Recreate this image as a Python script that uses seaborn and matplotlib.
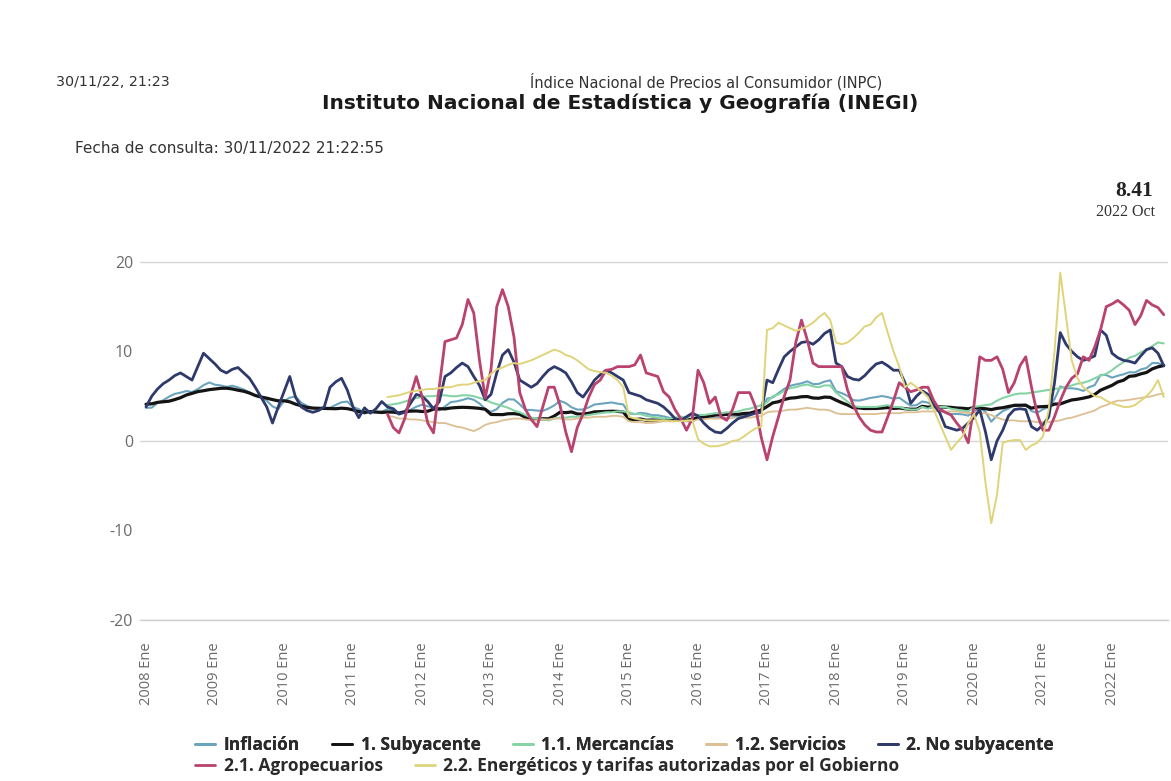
import numpy as np
import pandas as pd
import matplotlib
matplotlib.use("Agg")
import matplotlib.pyplot as plt
import seaborn as sns
from matplotlib.lines import Line2D

# ---------------- data (annual % change, monthly) ----------------
start_full = "2008-01-01"
start_parts = "2011-07-01"

inflacion = [
    3.70, 3.72, 4.25, 4.55, 4.95, 5.26, 5.39, 5.57, 5.47, 5.78, 6.23, 6.53,
    6.28, 6.20, 6.04, 6.17, 5.98, 5.74, 5.44, 5.08, 4.89, 4.50, 3.86, 3.57,
    4.46, 4.83, 4.97, 4.27, 3.92, 3.69, 3.64, 3.68, 3.70, 4.02, 4.32, 4.40,
    3.78, 3.57, 3.04, 3.36, 3.25, 3.28, 3.55, 3.42, 3.14, 3.20, 3.48, 3.82,
    4.05, 3.87, 3.73, 3.41, 3.85, 4.34, 4.42, 4.57, 4.77, 4.60, 4.18, 3.57,
    3.25, 3.55, 4.25, 4.65, 4.63, 4.09, 3.47, 3.46, 3.39, 3.36, 3.62, 3.97,
    4.48, 4.23, 3.76, 3.50, 3.51, 3.75, 4.07, 4.15, 4.22, 4.30, 4.17, 4.08,
    3.07, 3.00, 3.14, 3.06, 2.88, 2.87, 2.74, 2.59, 2.52, 2.48, 2.21, 2.13,
    2.61, 2.87, 2.60, 2.54, 2.60, 2.54, 2.65, 2.73, 2.97, 3.06, 3.31, 3.36,
    4.72, 4.86, 5.35, 5.82, 6.16, 6.31, 6.44, 6.66, 6.35, 6.37, 6.63, 6.77,
    5.55, 5.34, 5.04, 4.55, 4.51, 4.65, 4.81, 4.90, 5.02, 4.90, 4.72, 4.83,
    4.37, 3.94, 4.00, 4.41, 4.28, 3.95, 3.78, 3.16, 3.00, 3.02, 2.97, 2.83,
    3.24, 3.70, 3.25, 2.15, 2.84, 3.33, 3.62, 4.05, 4.01, 4.09, 3.33, 3.15,
    3.54, 3.76, 4.67, 6.08, 5.89, 5.88, 5.81, 5.59, 6.00, 6.24, 7.37, 7.36,
    7.07, 7.28, 7.45, 7.68, 7.65, 7.99, 8.15, 8.70, 8.70, 8.41,
]

subyacente = [
    4.10, 4.15, 4.31, 4.37, 4.44, 4.62, 4.83, 5.13, 5.31, 5.51, 5.61, 5.73,
    5.81, 5.88, 5.89, 5.81, 5.67, 5.55, 5.35, 5.08, 4.91, 4.78, 4.62, 4.48,
    4.49, 4.37, 4.11, 3.92, 3.74, 3.67, 3.65, 3.63, 3.62, 3.60, 3.66, 3.61,
    3.47, 3.27, 3.20, 3.27, 3.23, 3.18, 3.23, 3.22, 3.12, 3.27, 3.33, 3.35,
    3.29, 3.32, 3.55, 3.60, 3.58, 3.68, 3.73, 3.76, 3.74, 3.70, 3.64, 3.54,
    2.96, 2.95, 2.94, 3.04, 3.05, 2.97, 2.63, 2.43, 2.44, 2.48, 2.47, 2.78,
    3.21, 3.16, 3.24, 3.02, 3.00, 3.09, 3.25, 3.27, 3.29, 3.32, 3.30, 3.24,
    2.43, 2.39, 2.45, 2.31, 2.34, 2.33, 2.31, 2.32, 2.38, 2.47, 2.34, 2.41,
    2.64, 2.67, 2.76, 2.89, 2.93, 2.97, 3.00, 2.97, 3.07, 3.10, 3.29, 3.44,
    3.84, 4.26, 4.38, 4.63, 4.78, 4.83, 4.94, 4.96, 4.80, 4.77, 4.90, 4.87,
    4.56, 4.27, 4.02, 3.71, 3.69, 3.62, 3.63, 3.63, 3.67, 3.73, 3.63, 3.68,
    3.60, 3.54, 3.55, 3.87, 3.77, 3.85, 3.82, 3.78, 3.75, 3.68, 3.65, 3.59,
    3.73, 3.66, 3.60, 3.50, 3.64, 3.71, 3.85, 3.97, 3.99, 3.98, 3.66, 3.80,
    3.84, 3.87, 4.12, 4.13, 4.37, 4.58, 4.66, 4.78, 4.92, 5.19, 5.67, 5.94,
    6.21, 6.59, 6.78, 7.22, 7.28, 7.49, 7.65, 8.05, 8.28, 8.42,
]

no_subyacente = [
    3.8, 5.0, 5.8, 6.4, 6.8, 7.3, 7.6, 7.2, 6.8, 8.3, 9.8, 9.2,
    8.6, 7.9, 7.6, 8.0, 8.2, 7.6, 7.0, 6.0, 4.9, 3.8, 2.0, 3.8,
    5.5, 7.2, 4.9, 3.8, 3.4, 3.2, 3.4, 3.8, 6.0, 6.6, 7.0, 5.7,
    3.8, 2.6, 3.7, 3.1, 3.6, 4.4, 3.8, 3.6, 3.0, 3.2, 4.2, 5.2,
    5.0, 4.4, 3.6, 4.4, 7.2, 7.6, 8.2, 8.7, 8.3, 7.2, 6.2, 4.6,
    5.2, 7.6, 9.6, 10.2, 8.8, 6.8, 6.4, 6.0, 6.4, 7.2, 7.9, 8.3,
    8.0, 7.6, 6.6, 5.4, 4.9, 5.8, 6.8, 7.4, 7.9, 7.6, 7.2, 6.8,
    5.4, 5.2, 5.0, 4.6, 4.4, 4.2, 3.8, 3.2, 2.5, 2.3, 2.7, 3.1,
    2.8, 2.0, 1.4, 1.0, 0.9, 1.4, 2.0, 2.5, 2.7, 2.9, 3.1, 3.2,
    6.8, 6.5, 8.0, 9.4, 10.0, 10.5, 11.0, 11.1, 10.8, 11.3, 12.0, 12.4,
    8.7, 8.3, 7.2, 6.9, 6.8, 7.3, 8.0, 8.6, 8.8, 8.4, 7.9, 7.9,
    6.5, 4.2, 5.0, 5.6, 5.2, 4.0, 3.2, 1.6, 1.4, 1.2, 1.4, 2.0,
    2.6, 3.5, 1.0, -2.1, 0.0, 1.2, 2.8, 3.5, 3.6, 3.5, 1.6, 1.2,
    1.8, 2.7, 6.5, 12.1, 10.8, 10.0, 9.4, 9.0, 9.2, 9.5, 12.4, 11.8,
    9.8, 9.3, 9.0, 8.9, 8.7, 9.5, 10.2, 10.4, 9.8, 8.4,
]

mercancias = [
    4.0, 4.1, 4.2, 4.4, 4.6, 4.8,
    4.9, 5.0, 5.0, 5.1, 5.1, 5.0, 5.0, 5.1, 5.1, 5.0, 4.8, 4.6,
    4.3, 4.1, 3.9, 3.7, 3.4, 3.2, 2.9, 2.6, 2.5, 2.4, 2.3, 2.5,
    2.6, 2.6, 2.7, 2.7, 2.8, 2.9, 3.0, 3.1, 3.2, 3.2, 3.3, 3.3,
    3.2, 3.0, 3.0, 2.8, 2.7, 2.6, 2.5, 2.5, 2.6, 2.7, 2.6, 2.8,
    2.9, 2.9, 3.0, 3.1, 3.1, 3.2, 3.2, 3.3, 3.5, 3.6, 3.8, 4.0,
    4.3, 5.0, 5.2, 5.6, 5.9, 6.0, 6.2, 6.3, 6.1, 6.0, 6.2, 6.2,
    5.4, 4.9, 4.4, 3.9, 3.8, 3.8, 3.8, 3.8, 3.9, 4.0, 3.8, 3.8,
    3.6, 3.5, 3.5, 3.8, 3.6, 3.9, 3.8, 3.8, 3.6, 3.5, 3.4, 3.3,
    3.8, 3.9, 4.0, 4.1, 4.5, 4.8, 5.0, 5.2, 5.3, 5.3, 5.4, 5.5,
    5.6, 5.7, 5.8, 5.9, 6.0, 6.2, 6.4, 6.5, 6.7, 7.0, 7.3, 7.5,
    7.9, 8.4, 8.8, 9.3, 9.5, 9.9, 10.2, 10.6, 11.0, 10.9,
]

servicios = [
    2.8, 2.7, 2.5, 2.5, 2.4, 2.4,
    2.3, 2.2, 2.1, 2.0, 2.0, 1.8, 1.6, 1.5, 1.3, 1.1, 1.4, 1.8,
    2.0, 2.1, 2.3, 2.4, 2.5, 2.5, 2.4, 2.3, 2.3, 2.4, 2.4, 2.5,
    2.5, 2.4, 2.4, 2.5, 2.6, 2.6, 2.7, 2.7, 2.7, 2.8, 2.8, 2.7,
    2.2, 2.1, 2.1, 2.0, 2.0, 2.1, 2.2, 2.2, 2.2, 2.3, 2.2, 2.2,
    2.4, 2.4, 2.5, 2.5, 2.5, 2.5, 2.6, 2.6, 2.6, 2.6, 2.7, 2.8,
    3.2, 3.3, 3.3, 3.4, 3.5, 3.5, 3.6, 3.7, 3.6, 3.5, 3.5, 3.4,
    3.1, 3.0, 3.0, 3.0, 3.0, 3.0, 3.0, 3.0, 3.1, 3.1, 3.1, 3.1,
    3.2, 3.2, 3.2, 3.3, 3.3, 3.3, 3.3, 3.3, 3.3, 3.3, 3.2, 3.1,
    3.2, 3.1, 3.1, 2.9, 2.6, 2.4, 2.3, 2.3, 2.2, 2.2, 2.2, 2.1,
    2.1, 2.1, 2.2, 2.3, 2.5, 2.6, 2.8, 3.0, 3.2, 3.4, 3.8, 4.0,
    4.3, 4.5, 4.5, 4.6, 4.7, 4.8, 4.9, 5.0, 5.2, 5.3,
]

agropecuarios = [
    3.0, 1.5, 0.9, 2.5, 5.0, 7.2,
    5.0, 2.0, 0.9, 6.0, 11.1, 11.3, 11.5, 13.0, 15.8, 14.3, 9.0, 4.8,
    8.0, 15.0, 16.9, 15.0, 11.6, 5.4, 3.5, 2.4, 1.6, 3.8, 6.0, 6.0,
    4.0, 1.0, -1.2, 1.5, 3.0, 4.9, 6.3, 6.8, 7.9, 8.0, 8.3, 8.3,
    8.3, 8.5, 9.6, 7.6, 7.4, 7.2, 5.5, 4.9, 3.5, 2.5, 1.2, 2.5,
    7.9, 6.5, 4.2, 4.9, 2.7, 2.3, 3.5, 5.4, 5.4, 5.4, 3.8, 0.4,
    -2.1, 0.5, 2.7, 5.0, 6.8, 11.0, 13.5, 11.3, 8.7, 8.3, 8.3, 8.3,
    8.3, 8.3, 5.7, 4.0, 2.7, 1.8, 1.2, 1.0, 1.0, 2.7, 4.5, 6.5,
    6.0, 5.5, 5.7, 6.0, 6.0, 4.5, 3.5, 3.2, 2.9, 2.0, 1.2, -0.2,
    4.0, 9.4, 9.0, 9.0, 9.4, 8.0, 5.4, 6.5, 8.4, 9.4, 6.0, 3.0,
    1.2, 1.2, 2.7, 4.5, 6.0, 7.0, 7.5, 9.4, 9.0, 10.5, 12.4, 15.0,
    15.3, 15.7, 15.2, 14.6, 13.0, 14.0, 15.7, 15.2, 14.9, 14.1,
]

energeticos = [
    4.9, 5.0, 5.1, 5.3, 5.5, 5.6,
    5.7, 5.8, 5.8, 5.9, 6.0, 6.0, 6.2, 6.3, 6.3, 6.5, 6.7, 6.8,
    7.5, 8.0, 8.2, 8.5, 8.7, 8.6, 8.8, 9.0, 9.3, 9.6, 9.9, 10.2,
    10.0, 9.6, 9.4, 9.0, 8.5, 8.0, 7.8, 7.7, 7.6, 7.3, 6.8, 6.0,
    2.7, 2.5, 2.4, 2.3, 2.3, 2.3, 2.3, 2.2, 2.2, 2.2, 2.3, 2.3,
    0.2, -0.3, -0.6, -0.6, -0.5, -0.3, 0.0, 0.1, 0.5, 1.0, 1.4, 1.6,
    12.4, 12.6, 13.2, 12.9, 12.6, 12.3, 12.5, 12.8, 13.2, 13.8, 14.3, 13.5,
    11.0, 10.8, 11.0, 11.5, 12.1, 12.8, 13.0, 13.8, 14.3, 12.1, 10.0, 8.3,
    6.0, 6.5, 6.0, 5.5, 4.9, 3.5, 2.0, 0.5, -1.0, -0.2, 0.5, 2.0,
    3.0, 1.0, -4.7, -9.2, -6.0, -0.2, 0.0, 0.1, 0.1, -1.0, -0.5, -0.2,
    0.5, 3.5, 10.0, 18.8, 13.9, 9.0, 7.0, 6.0, 5.5, 5.0, 4.9, 4.5,
    4.2, 4.0, 3.8, 3.8, 4.0, 4.5, 5.0, 5.7, 6.8, 4.9,
]

series_names = ["Inflación", "1. Subyacente", "1.1. Mercancías", "1.2. Servicios",
                "2. No subyacente", "2.1. Agropecuarios",
                "2.2. Energéticos y tarifas autorizadas por el Gobierno"]
series_values = [inflacion, subyacente, mercancias, servicios,
                 no_subyacente, agropecuarios, energeticos]
series_starts = [start_full, start_full, start_parts, start_parts,
                 start_full, start_parts, start_parts]
tick_years = list(range(2008, 2023))
tick_labels = [f"{y} Ene" for y in tick_years]
y_ticks = [-20, -10, 0, 10, 20]
grid_values = [-20, 0, 20]

colors = ["#6aa4bd", "#141414", "#86d3a6", "#dcbf92",
          "#2f3a6c", "#b9426f", "#e0d47a"]
widths = [1.5, 2.3, 1.5, 1.3, 2.0, 2.0, 1.4]


def frame(name, start, values):
    d = pd.date_range(start, periods=len(values), freq="MS")
    return pd.DataFrame({"t": d.year + (d.month - 1) / 12.0,
                         "valor": values, "serie": name})


df = pd.concat([frame(n, s, v) for n, s, v in
                zip(series_names, series_starts, series_values)],
               ignore_index=True)

# ---------------- figure ----------------
sns.set_style("white")
plt.rcParams["font.family"] = ["Open Sans", "DejaVu Sans"]
plt.rcParams["axes.unicode_minus"] = False

W, H = 1171, 781
fig = plt.figure(figsize=(W / 100, H / 100), dpi=100)
fig.patch.set_facecolor("white")

ax_l, ax_r, ax_t, ax_b = 140, 1168, 244, 620
ax = fig.add_axes([ax_l / W, 1 - ax_b / H, (ax_r - ax_l) / W, (ax_b - ax_t) / H])
ax.set_facecolor("white")

for gv in grid_values:
    ax.axhline(gv, color="#d6d6d6", linewidth=1.0, zorder=0.5)

for name, col, lw in zip(series_names, colors, widths):
    sub = df[df["serie"] == name]
    sns.lineplot(data=sub, x="t", y="valor", color=col, linewidth=lw,
                 ax=ax, estimator=None, legend=False, sort=True)

px_year = 69.0
ax.set_xlim(2008 - 6 / px_year, 2008 + (ax_r - 146) / px_year)
ax.set_ylim(-20, 22)

ax.set_yticks(y_ticks)
ax.set_yticklabels([str(v) for v in y_ticks])
ax.set_xticks(tick_years)
ax.set_xticklabels(tick_labels, rotation=90, va="top", ha="center")
ax.set_xlabel("")
ax.set_ylabel("")

ax.grid(False)
for s in ["top", "right", "left"]:
    ax.spines[s].set_visible(False)
ax.spines["bottom"].set_color("#cfcfcf")
ax.spines["bottom"].set_linewidth(1.0)
ax.tick_params(axis="x", which="major", length=8, width=1, color="#cfcfcf",
               direction="out", pad=8, labelsize=10.5, labelcolor="#6a6a6a")
ax.tick_params(axis="y", length=0, pad=5, labelsize=11.5, labelcolor="#6a6a6a")

# ---------------- header texts ----------------
hdr = ["DejaVu Sans"]
fig.text(56 / W, 1 - 82 / H, "30/11/22, 21:23", fontsize=10.3, family=hdr,
         color="#333333", ha="left", va="center")
fig.text(706 / W, 1 - 82 / H, "Índice Nacional de Precios al Consumidor (INPC)",
         fontsize=10.5, family=hdr, color="#333333", ha="center", va="center")
fig.text(620 / W, 1 - 103 / H, "Instituto Nacional de Estadística y Geografía (INEGI)",
         fontsize=14.5, family=hdr, weight="bold", color="#1a1a1a",
         ha="center", va="center")
fig.text(75 / W, 1 - 148 / H, "Fecha de consulta: 30/11/2022 21:22:55",
         fontsize=11, family=hdr, color="#333333", ha="left", va="center")
serif = ["Liberation Serif", "DejaVu Serif"]
fig.text(1153 / W, 1 - 191 / H, "8.41", fontsize=15.5, family=serif,
         weight="bold", color="#222222", ha="right", va="center")
fig.text(1155 / W, 1 - 212 / H, "2022 Oct", fontsize=11.5, family=serif,
         color="#333333", ha="right", va="center")

# ---------------- legend (two rows) ----------------
handles = [Line2D([0], [0], color=c, lw=2.0) for c in colors]
leg_kw = dict(frameon=False, handlelength=1.15, handletextpad=0.5,
              columnspacing=1.85, borderpad=0, borderaxespad=0,
              prop={"family": ["Open Sans", "DejaVu Sans"], "weight": "bold",
                    "size": 12.5},
              labelcolor="#2a2a2a")
leg1 = fig.legend(handles[:5], series_names[:5], loc="center left",
                  bbox_to_anchor=(195 / W, 1 - 745 / H), ncol=5, **leg_kw)
fig.add_artist(leg1)
leg2 = fig.legend(handles[5:], series_names[5:], loc="center left",
                  bbox_to_anchor=(195 / W, 1 - 766 / H), ncol=2, **leg_kw)

fig.savefig("out.png", dpi=100, facecolor="white")
